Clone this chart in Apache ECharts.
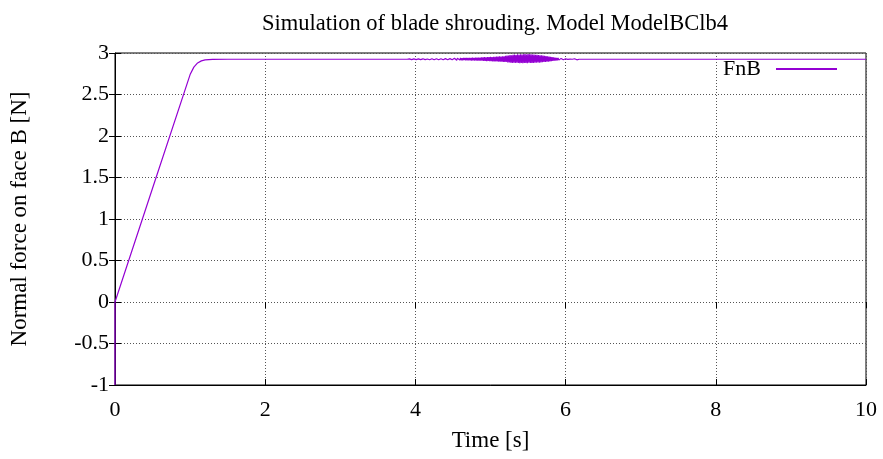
<!DOCTYPE html>
<html>
<head>
<meta charset="utf-8">
<script src="https://cdn.jsdelivr.net/npm/echarts@6/dist/echarts.min.js"></script>
<style>
  html, body { margin: 0; padding: 0; background: #fff; }
  #chart { width: 883px; height: 459px; }
</style>
</head>
<body>
<div id="chart"></div>
<script>
// Normal force on face B during the blade shrouding run (model ModelBClb4)

// Loading ramp and settling onto the plateau
const rampTime  = [0,   0,    0.50, 1.00, 1.05, 1.10, 1.15, 1.20, 1.30, 1.50, 3.89];
const rampForce = [-1,  0,    1.37, 2.74, 2.83, 2.88, 2.905, 2.918, 2.924, 2.925, 2.925];

// Oscillations around the plateau (deviation from it), sampled every 0.01 s from 3.90 s
const plateauForce = 2.925;
const oscStart = 3.90;
const oscStep = 0.01;
const oscDeviation = [
  0.003,-0.002,0.004,-0.003,0.002,-0.004,0.003,-0.002,0.005,-0.003,
  0.004,-0.004,0.003,-0.005,0.004,-0.003,0.005,-0.004,0.003,-0.004,
  0.005,-0.003,0.004,-0.005,0.006,-0.004,0.003,-0.005,0.004,-0.006,
  0.005,-0.004,0.006,-0.005,0.004,-0.006,0.007,-0.005,0.006,-0.004,
  0.005,-0.006,0.007,-0.005,0.006,-0.007,0.005,-0.006,0.008,-0.006,
  0.007,-0.005,0.008,-0.007,0.006,-0.008,0.007,-0.006,0.009,-0.007,
  0.010,-0.008,0.012,-0.009,0.011,-0.012,0.013,-0.010,0.012,-0.011,
  0.014,-0.012,0.013,-0.014,0.015,-0.011,0.014,-0.013,0.016,-0.012,
  0.015,-0.014,0.017,-0.013,0.016,-0.015,0.018,-0.014,0.017,-0.016,
  0.019,-0.015,0.018,-0.017,0.020,-0.016,0.019,-0.018,0.021,-0.017,
  0.022,-0.019,0.024,-0.020,0.023,-0.022,0.026,-0.021,0.025,-0.024,
  0.028,-0.023,0.027,-0.026,0.030,-0.025,0.029,-0.027,0.032,-0.026,
  0.031,-0.029,0.034,-0.028,0.033,-0.030,0.036,-0.031,0.035,-0.033,
  0.040,-0.034,0.045,-0.038,0.043,-0.040,0.050,-0.042,0.047,-0.044,
  0.053,-0.041,0.055,-0.046,0.051,-0.043,0.058,-0.045,0.054,-0.047,
  0.060,-0.044,0.056,-0.048,0.059,-0.046,0.062,-0.045,0.057,-0.047,
  0.061,-0.043,0.058,-0.046,0.060,-0.044,0.055,-0.045,0.057,-0.042,
  0.054,-0.043,0.052,-0.040,0.050,-0.041,0.048,-0.038,0.046,-0.036,
  0.044,-0.034,0.041,-0.032,0.038,-0.030,0.035,-0.028,0.032,-0.025,
  0.029,-0.022,0.026,-0.020,0.023,-0.018,0.020,-0.016,0.017,-0.013,
  0.014,-0.011,0.012,-0.009,0.010,-0.007,0.008,-0.006,0.006,-0.004,
  0.005,-0.003,0.003,-0.002,0.002,-0.001,0.001,0,0,0,
  0,0,0.006,-0.008,0.009,-0.007,0.005,-0.003,0,0
];

// Steady state until the end of the run
const tailTime  = [6.20, 10];
const tailForce = [2.925, 2.925];

// Axis ticks
const xTicks = { min: 0, max: 10, interval: 2 };
const yTicks = { min: -1, max: 3, interval: 0.5 };

const points = [];
rampTime.forEach((t, i) => points.push([t, rampForce[i]]));
oscDeviation.forEach((d, i) => points.push([+(oscStart + i * oscStep).toFixed(2), plateauForce + d]));
tailTime.forEach((t, i) => points.push([t, tailForce[i]]));

const serif = '"Liberation Serif", "Times New Roman", serif';
const lineColor = '#9400d3';
const fontSize = 22;
const nameFontSize = 23;

const chart = echarts.init(document.getElementById('chart'), null, { renderer: 'canvas' });

const mirrorAxis = {
  axisLine: { show: false },
  axisTick: { show: true, inside: true, length: 6, lineStyle: { color: '#000', width: 1 } },
  axisLabel: { show: false },
  splitLine: { show: false }
};

chart.setOption({
  animation: false,
  backgroundColor: '#fff',
  title: {
    text: 'Simulation of blade shrouding. Model ModelBClb4',
    left: 490, top: 8, textAlign: 'center',
    textStyle: { fontFamily: serif, fontSize: 22.5, fontWeight: 'normal', color: '#000' }
  },
  legend: {
    right: 46, top: 58,
    padding: 0,
    align: 'right',
    itemWidth: 61, itemHeight: 2,
    itemGap: 0,
    icon: 'rect',
    textStyle: { fontFamily: serif, fontSize: fontSize, color: '#000', padding: [0, 10, 0, 0] },
    data: [{ name: 'FnB', itemStyle: { color: lineColor } }]
  },
  grid: { left: 113, right: 17, top: 53, bottom: 74, show: true, borderColor: '#000', borderWidth: 1 },
  xAxis: [{
    type: 'value', min: xTicks.min, max: xTicks.max, interval: xTicks.interval,
    name: 'Time [s]', nameLocation: 'middle', nameGap: 44,
    nameTextStyle: { fontFamily: serif, fontSize: nameFontSize, color: '#000' },
    axisLine: { show: true, onZero: false, lineStyle: { color: '#000' } },
    axisTick: { show: true, inside: true, length: 6, lineStyle: { color: '#000' } },
    axisLabel: { fontFamily: serif, fontSize: fontSize, color: '#000', margin: 14 },
    splitLine: { show: true, lineStyle: { color: '#555', type: [1, 2], width: 1 } }
  }, Object.assign({ type: 'value', position: 'top', min: xTicks.min, max: xTicks.max, interval: xTicks.interval }, mirrorAxis)],
  yAxis: [{
    type: 'value', min: yTicks.min, max: yTicks.max, interval: yTicks.interval,
    name: 'Normal force on face B [N]', nameLocation: 'middle', nameGap: 84, nameRotate: 90,
    nameTextStyle: { fontFamily: serif, fontSize: nameFontSize, color: '#000' },
    axisLine: { show: true, onZero: false, lineStyle: { color: '#000' } },
    axisTick: { show: true, inside: true, length: 6, lineStyle: { color: '#000' } },
    axisLabel: { fontFamily: serif, fontSize: fontSize, color: '#000', margin: 6 },
    splitLine: { show: true, lineStyle: { color: '#555', type: [1, 2], width: 1 } }
  }, Object.assign({ type: 'value', position: 'right', min: yTicks.min, max: yTicks.max, interval: yTicks.interval }, mirrorAxis)],
  series: [{
    name: 'FnB',
    type: 'line',
    data: points,
    showSymbol: false,
    symbol: 'none',
    lineStyle: { color: lineColor, width: 1.2 },
    itemStyle: { color: lineColor },
    z: 3
  }]
});
</script>
</body>
</html>
